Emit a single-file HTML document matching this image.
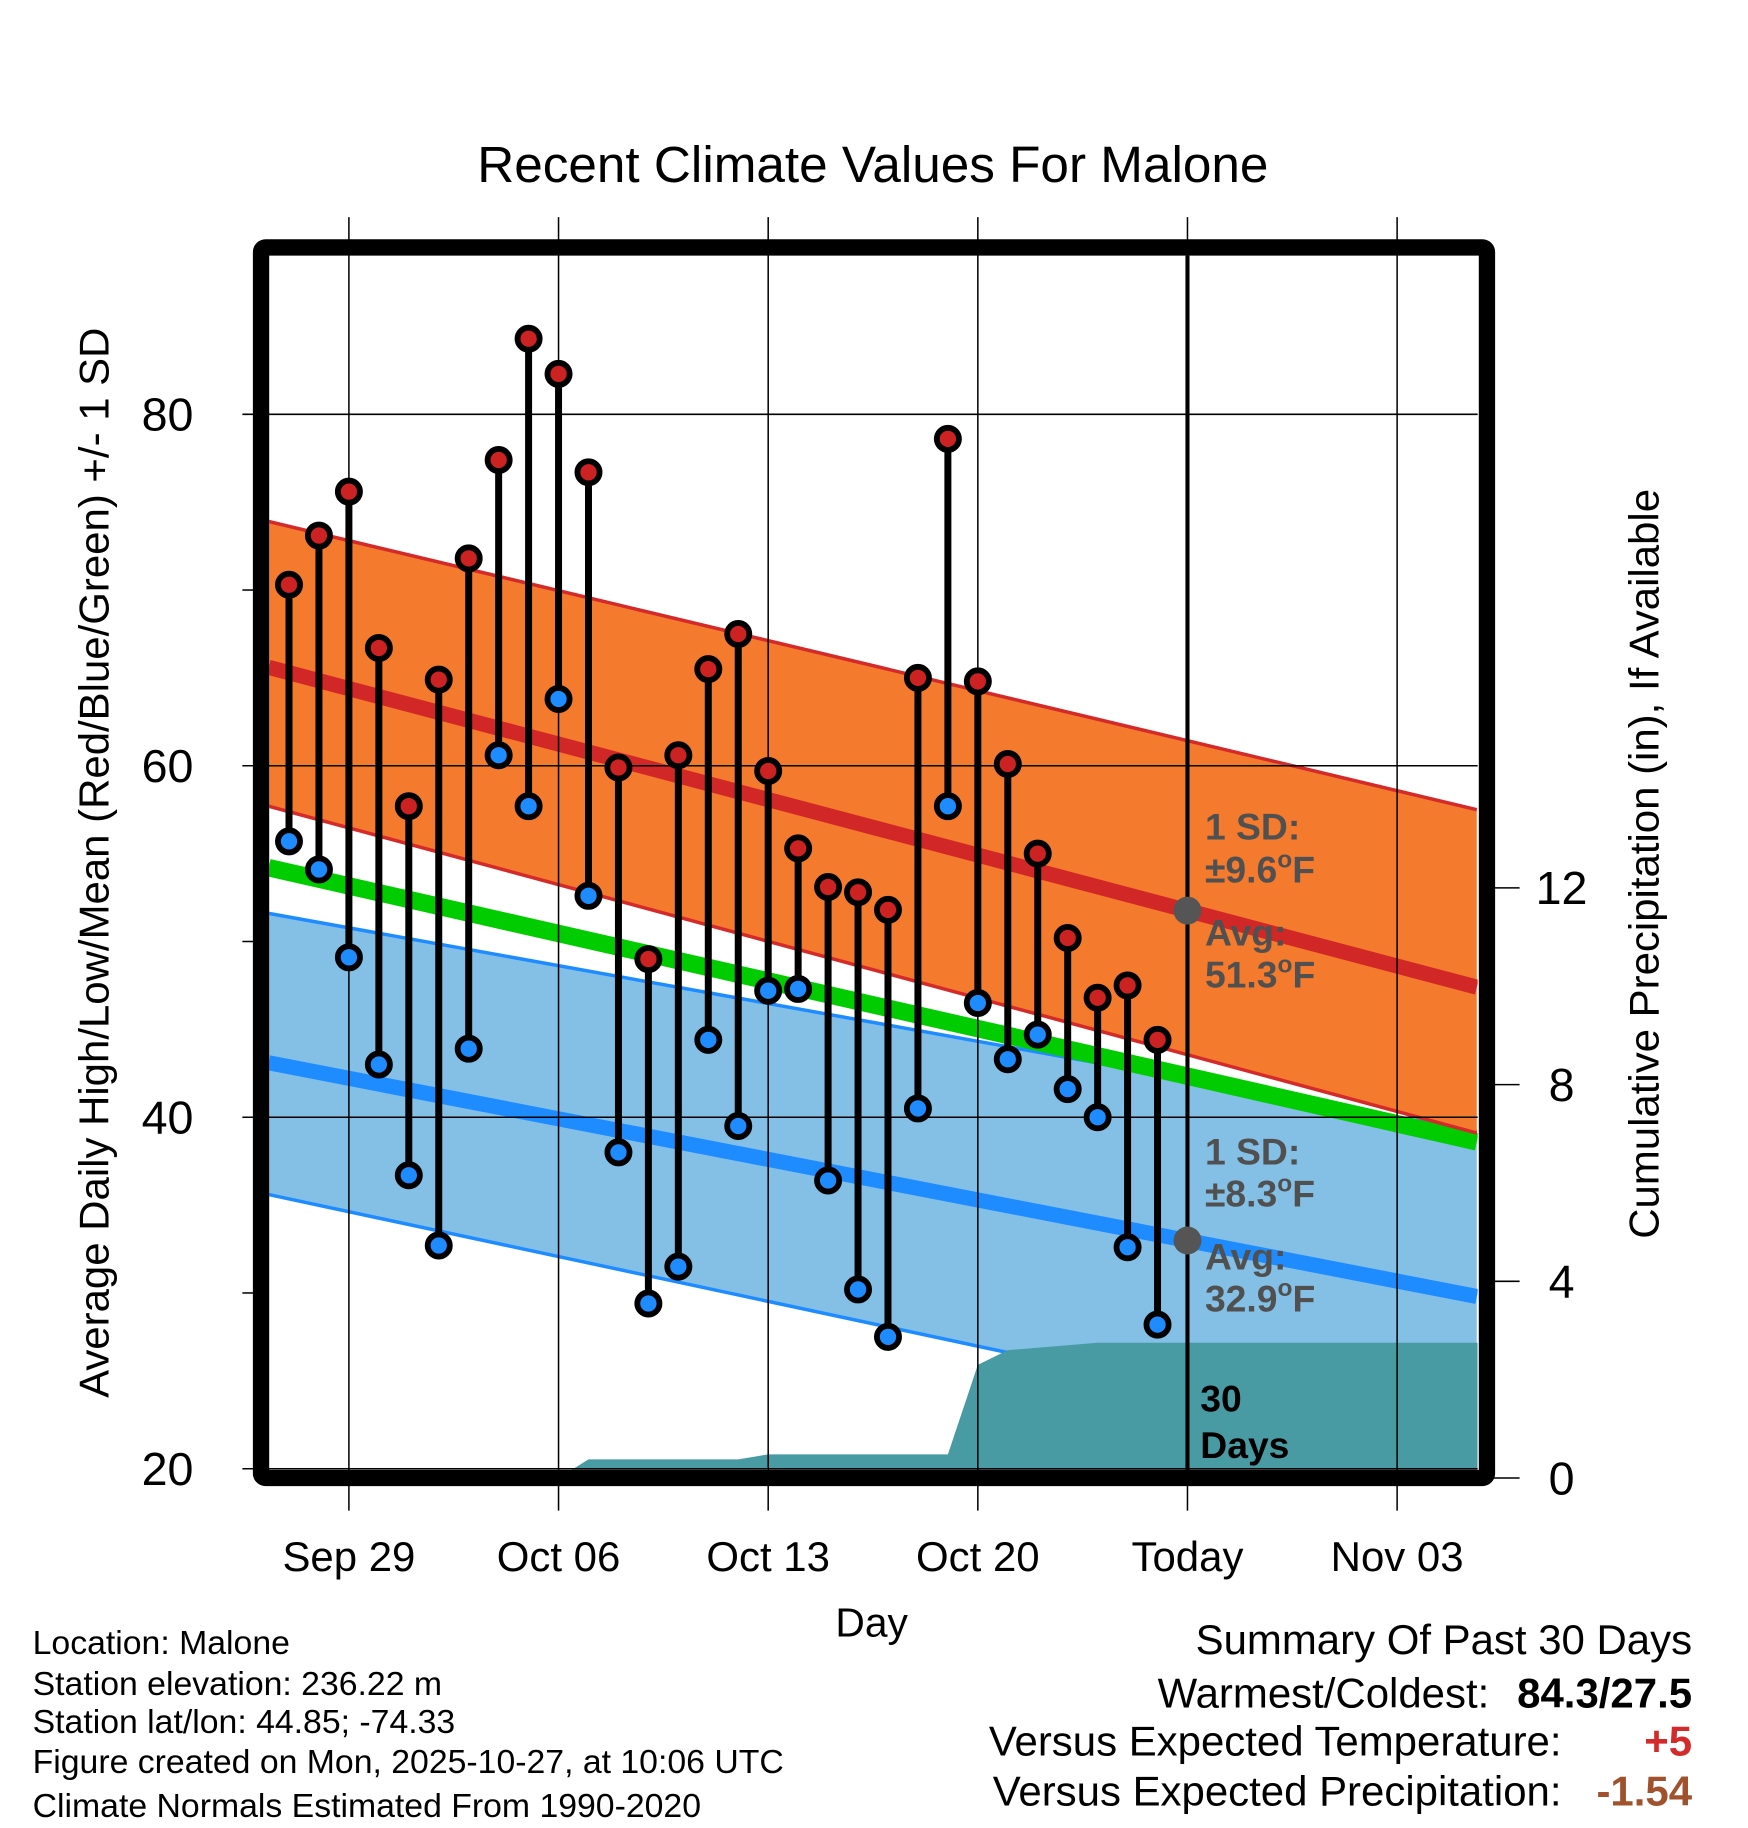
<!DOCTYPE html>
<html><head><meta charset="utf-8"><style>
html,body{margin:0;padding:0;background:#fff;}
svg{display:block;font-family:"Liberation Sans",sans-serif;}
</style></head><body>
<svg id="chart" width="1748" height="1828" viewBox="0 0 1500 1568" xmlns="http://www.w3.org/2000/svg">
<g id="plot"></g>
<text x="749" y="156" font-size="44" text-anchor="middle">Recent Climate Values For Malone</text>
<text transform="translate(93,740) rotate(-90)" font-size="36" text-anchor="middle">Average Daily High/Low/Mean (Red/Blue/Green) +/- 1 SD</text>
<text transform="translate(1423,741) rotate(-90)" font-size="36" text-anchor="middle">Cumulative Precipitation (in), If Available</text>
<text x="748" y="1404" font-size="35" text-anchor="middle">Day</text>
<g font-size="29">
<text x="28" y="1419">Location: Malone</text>
<text x="28" y="1454">Station elevation: 236.22 m</text>
<text x="28" y="1487">Station lat/lon: 44.85; -74.33</text>
<text x="28" y="1521">Figure created on Mon, 2025-10-27, at 10:06 UTC</text>
<text x="28" y="1559">Climate Normals Estimated From 1990-2020</text>
</g>
<g font-size="36" text-anchor="end">
<text x="1452" y="1419">Summary Of Past 30 Days</text>
<text x="1278" y="1465">Warmest/Coldest:</text>
<text x="1452" y="1465" font-weight="bold">84.3/27.5</text>
<text x="1340" y="1506">Versus Expected Temperature:</text>
<text x="1452" y="1506" font-weight="bold" fill="#d42a2a">+5</text>
<text x="1340" y="1549">Versus Expected Precipitation:</text>
<text x="1452" y="1549" font-weight="bold" fill="#a0522d">-1.54</text>
</g>
</svg>
<script>
const highs=[70.3,73.1,75.6,66.7,57.7,64.9,71.8,77.4,84.3,82.3,76.7,59.9,49.0,60.6,65.5,67.5,59.7,55.3,53.1,52.8,51.8,65.0,78.6,64.8,60.1,55.0,50.2,46.8,47.5,44.4];
const lows=[55.7,54.1,49.1,43.0,36.7,32.7,43.9,60.6,57.7,63.8,52.6,38.0,29.4,31.5,44.4,39.5,47.2,47.3,36.4,30.2,27.5,40.5,57.7,46.5,43.3,44.7,41.6,40.0,32.6,28.2];
const precip=[0,0,0,0,0,0,0,0,0,0,0.38,0.38,0.38,0.38,0.38,0.38,0.48,0.48,0.48,0.48,0.48,0.48,0.48,2.3,2.6,2.65,2.7,2.75,2.75,2.75];
// normals at plot start / end (days from Sep 27)
const normDays=[-0.68,39.66];
const normHigh=[65.6,47.4];
const normHighTop=[73.9,57.5];
const normHighBot=[57.7,39.1];
const normMean=[54.2,38.6];
const normLow=[43.1,29.8];
const normLowTop=[51.6,39.2];
const normLowBot=[35.6,20.9];
const xTickDays=[2,9,16,23,30,37];
const xTickLabels=["Sep 29","Oct 06","Oct 13","Oct 20","Today","Nov 03"];
const yTicks=[20,40,60,80];
const yMinor=[30,50,70];
const pTicks=[0,4,8,12];
const todayDay=30;

const L=231,R=1268,T=219,B=1261;
const X=d=>248+25.7*d;
const Y=v=>1260-(v-20)*15.08;
const P=v=>1268-v*42.2;
const NS="http://www.w3.org/2000/svg";
const plot=document.getElementById('plot');
function mk(tag,attrs,parent){const e=document.createElementNS(NS,tag);for(const k in attrs)e.setAttribute(k,attrs[k]);(parent||plot).appendChild(e);return e;}
const defs=mk('defs',{});
const cp=mk('clipPath',{id:'clip'},defs);mk('rect',{x:L,y:T,width:R-L,height:B-T},cp);
const g=mk('g',{'clip-path':'url(#clip)'});
function band(top,bot,fill,stroke,name){
 const pts=[[X(normDays[0]),Y(top[0])],[X(normDays[1]),Y(top[1])],[X(normDays[1]),Y(bot[1])],[X(normDays[0]),Y(bot[0])]];
 const e=mk('polygon',{points:pts.map(p=>p.join(',')).join(' '),fill:fill},g);
 
 
 [top,bot].forEach(a=>mk('line',{x1:X(normDays[0]),y1:Y(a[0]),x2:X(normDays[1]),y2:Y(a[1]),stroke:stroke,'stroke-width':3},g));
}
function nline(a,color,w,name){const e=mk('line',{x1:X(normDays[0]),y1:Y(a[0]),x2:X(normDays[1]),y2:Y(a[1]),stroke:color,'stroke-width':w},g);
 
 }
band(normLowTop,normLowBot,'#84c0e6','#1e8cff','low-sd-band');
nline(normLow,'#1e8cff',13,'normal-low-line');
nline(normMean,'#00cc00',15,'normal-mean-line');
band(normHighTop,normHighBot,'#f47a2e','#d42a2a','high-sd-band');
nline(normHigh,'#d22727',13,'normal-high-line');
// precipitation
let pp=[[L,P(0)]];
precip.forEach((v,i)=>pp.push([X(i),P(v)]));
pp.push([R,P(precip[precip.length-1])],[R,B+8],[L,B+8]);
const pa=mk('polygon',{points:pp.map(p=>p.join(',')).join(' '),fill:'#489aa3'},g);


// grid
xTickDays.forEach((d,i)=>{
 mk('line',{x1:X(d),y1:186,x2:X(d),y2:1296,stroke:'#000','stroke-width':1.3});
 const t=mk('text',{x:X(d),y:1348,'font-size':36,'text-anchor':'middle'});t.textContent=xTickLabels[i];
 
 
});
yTicks.forEach(v=>{
 mk('line',{x1:208,y1:Y(v),x2:R,y2:Y(v),stroke:'#000','stroke-width':1.3});
 const t=mk('text',{x:166,y:Y(v)+14,'font-size':40,'text-anchor':'end'});t.textContent=v;
 
 
});
yMinor.forEach(v=>mk('line',{x1:208,y1:Y(v),x2:218,y2:Y(v),stroke:'#000','stroke-width':1.3}));
pTicks.forEach(v=>{
 mk('line',{x1:1276,y1:P(v),x2:1304,y2:P(v),stroke:'#000','stroke-width':1.3});
 const t=mk('text',{x:1340,y:P(v)+14,'font-size':40,'text-anchor':'middle'});t.textContent=v;
 
 
});
// today line
const tl=mk('line',{x1:X(todayDay),y1:T,x2:X(todayDay),y2:B,stroke:'#000','stroke-width':3.5});


// stems and dots
highs.forEach((h,i)=>{
 const s=mk('line',{x1:X(i),y1:Y(h),x2:X(i),y2:Y(lows[i]),stroke:'#000','stroke-width':6});
 
 
 const c1=mk('circle',{cx:X(i),cy:Y(h),r:9.5,fill:'#cc2222',stroke:'#000','stroke-width':5});
 
 
 const c2=mk('circle',{cx:X(i),cy:Y(lows[i]),r:9.5,fill:'#1e8cff',stroke:'#000','stroke-width':5});
 
 
});
// annotations
const hv=normHigh[0]+(normHigh[1]-normHigh[0])*(todayDay-normDays[0])/(normDays[1]-normDays[0]);
const lv=normLow[0]+(normLow[1]-normLow[0])*(todayDay-normDays[0])/(normDays[1]-normDays[0]);
const m1=mk('circle',{cx:X(todayDay),cy:Y(hv),r:12,fill:'#555'});


const m2=mk('circle',{cx:X(todayDay),cy:Y(lv),r:12,fill:'#555'});


function txt(x,y,s,fill,name){const t=mk('text',{x:x,y:y,'font-size':32,'font-weight':'bold',fill:fill});t.innerHTML=s;
 
 }
txt(1034,720,'1 SD:','#505050','high-sd-label');
txt(1034,757,'±9.6<tspan font-size="21" dy="-13">o</tspan><tspan dy="13">F</tspan>','#505050','high-sd-value');
txt(1034,811,'Avg:','#505050','high-avg-label');
txt(1034,847,'51.3<tspan font-size="21" dy="-13">o</tspan><tspan dy="13">F</tspan>','#505050','high-avg-value');
txt(1034,999,'1 SD:','#505050','low-sd-label');
txt(1034,1035,'±8.3<tspan font-size="21" dy="-13">o</tspan><tspan dy="13">F</tspan>','#505050','low-sd-value');
txt(1034,1089,'Avg:','#505050','low-avg-label');
txt(1034,1125,'32.9<tspan font-size="21" dy="-13">o</tspan><tspan dy="13">F</tspan>','#505050','low-avg-value');
txt(1030,1211,'30','#000','days-count-label');
txt(1030,1251,'Days','#000','days-label');
// frame
const fr=mk('rect',{x:224,y:212,width:1052,height:1056,fill:'none',stroke:'#000','stroke-width':14,rx:4});


</script>
</body></html>
